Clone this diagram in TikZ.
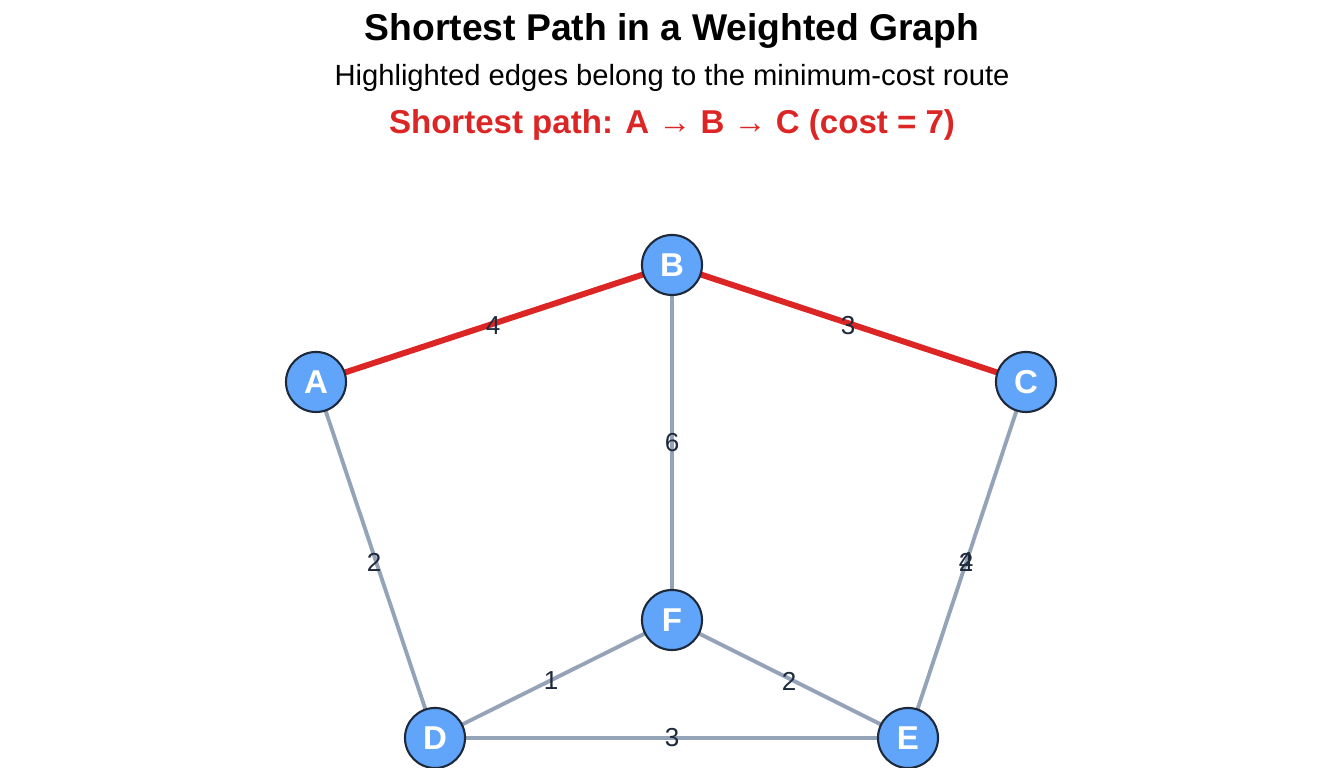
\documentclass[tikz,border=0pt]{standalone}
\usepackage{fontspec}
\setmainfont{Liberation Sans}
\begin{document}
\begin{tikzpicture}[x=0.01cm,y=-0.01cm,
  vtx/.style={circle,draw=nodeb,line width=0.6pt,fill=nodef,minimum size=0.6cm,inner sep=0pt,text=white,font=\fontsize{9.4}{10}\selectfont\bfseries},
  gedge/.style={draw=edgeg,line width=1.1pt},
  redge/.style={draw=pathr,line width=1.7pt},
  wlab/.style={text=labc,font=\fontsize{7.4}{8}\selectfont,inner sep=0pt}]
\definecolor{nodef}{HTML}{60A5FA}
\definecolor{nodeb}{HTML}{1E293B}
\definecolor{edgeg}{HTML}{94A3B8}
\definecolor{pathr}{HTML}{DC2626}
\definecolor{labc}{HTML}{1E293B}
\useasboundingbox (0,0) rectangle (1344,768);
\node[font=\fontsize{10.6}{12}\selectfont\bfseries] (t1) at (672,31) {Shortest Path in a Weighted Graph};
\node[font=\fontsize{8.3}{10}\selectfont] (t2) at (672,78) {Highlighted edges belong to the minimum-cost route};
\node[font=\fontsize{9.4}{11}\selectfont\bfseries,text=pathr] (t3) at (672,125) {Shortest path: A → B → C (cost = 7)};
\coordinate (pA) at (316,382); \coordinate (pB) at (672,265); \coordinate (pC) at (1026,382);
\coordinate (pD) at (435,738); \coordinate (pE) at (908,738); \coordinate (pF) at (672,620);
\draw[gedge] (pB) -- (pF);
\draw[gedge] (pA) -- (pD);
\draw[gedge] (pC) -- (pE);
\draw[gedge] (pD) -- (pF);
\draw[gedge] (pF) -- (pE);
\draw[gedge] (pD) -- (pE);
\draw[redge] (pA) -- (pB);
\draw[redge] (pB) -- (pC);
\node[wlab] (l1) at (493,326) {4};
\node[wlab] (l2) at (848,326) {3};
\node[wlab] (l3) at (672,443) {6};
\node[wlab] (l4) at (374,562) {2};
\node[wlab] (l5) at (966,562) {2};
\node[wlab] (l6) at (966,562) {4};
\node[wlab] (l7) at (551,681) {1};
\node[wlab] (l8) at (789,681) {2};
\node[wlab] (l9) at (672,738) {3};
\node[vtx] (A) at (pA) {A};
\node[vtx] (B) at (pB) {B};
\node[vtx] (C) at (pC) {C};
\node[vtx] (D) at (pD) {D};
\node[vtx] (E) at (pE) {E};
\node[vtx] (F) at (pF) {F};
\end{tikzpicture}
\end{document}
